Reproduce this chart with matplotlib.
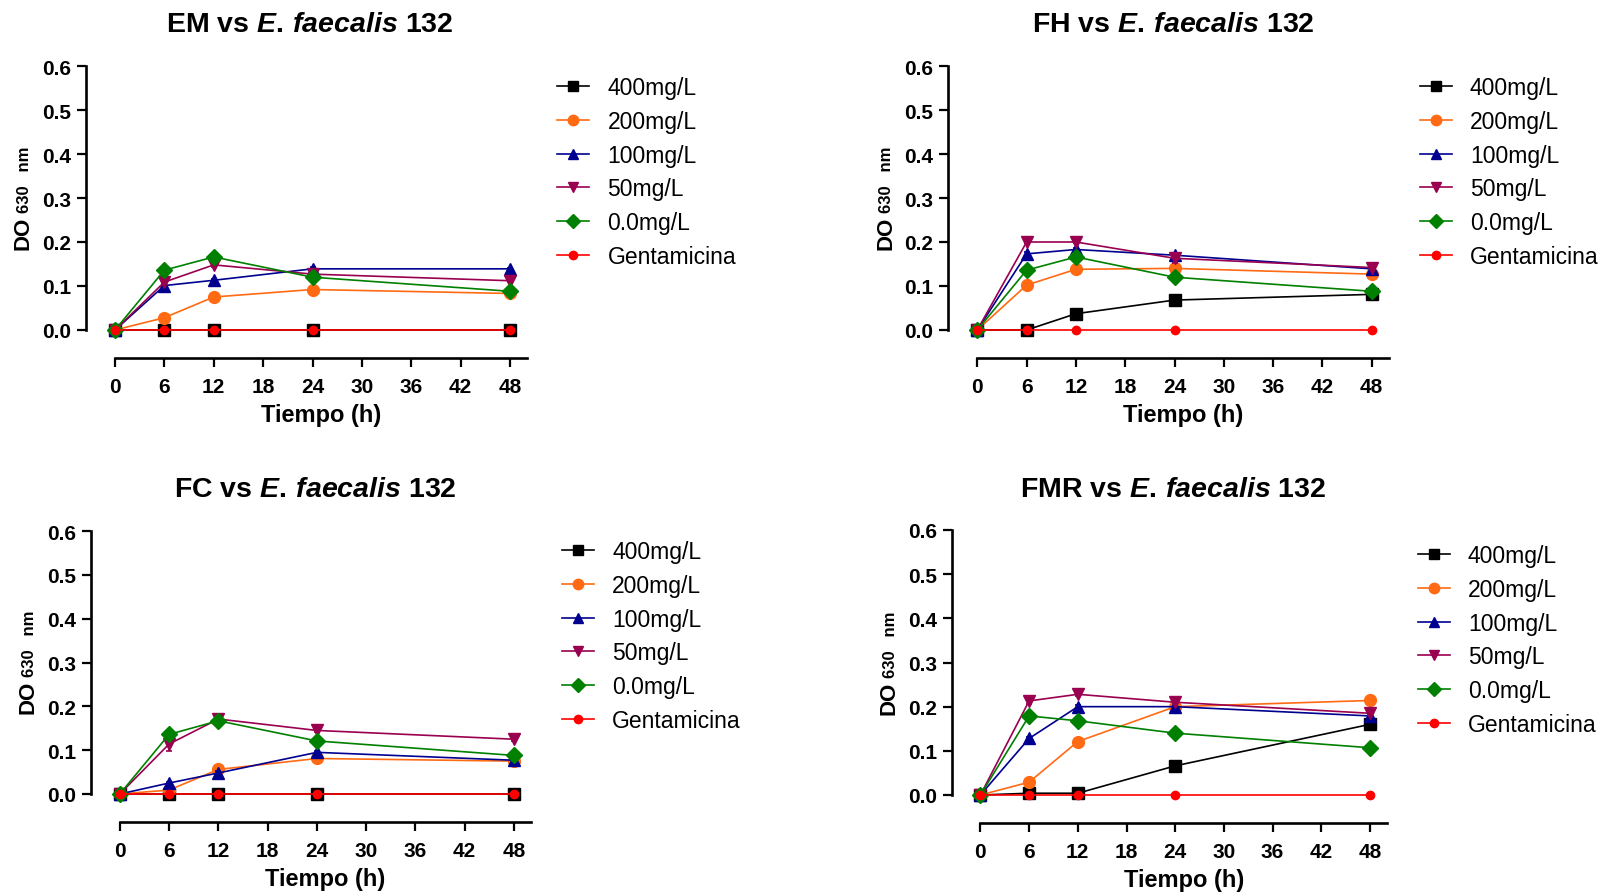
import matplotlib
matplotlib.use('Agg')
import matplotlib.pyplot as plt
from matplotlib.lines import Line2D

plt.rcParams['font.family'] = ['Liberation Sans', 'DejaVu Sans']
plt.rcParams['mathtext.fontset'] = 'custom'
plt.rcParams['mathtext.rm'] = 'Liberation Sans:bold'
plt.rcParams['mathtext.bf'] = 'Liberation Sans:bold'
plt.rcParams['mathtext.it'] = 'Liberation Sans:italic:bold'

# ---------------- data ----------------
hours = [0, 6, 12, 24, 48]
series_labels = ['400mg/L', '200mg/L', '100mg/L', '50mg/L', '0.0mg/L', 'Gentamicina']
x_ticks = [0, 6, 12, 18, 24, 30, 36, 42, 48]
y_ticks = [0.0, 0.1, 0.2, 0.3, 0.4, 0.5, 0.6]
panel_titles = ['EM', 'FH', 'FC', 'FMR']

em_do = [
    [0.0, 0.0, 0.0, 0.0, 0.0],
    [0.0, 0.028, 0.075, 0.092, 0.083],
    [0.0, 0.101, 0.113, 0.139, 0.139],
    [0.0, 0.109, 0.148, 0.127, 0.112],
    [0.0, 0.136, 0.166, 0.120, 0.088],
    [0.0, 0.0, 0.0, 0.0, 0.0],
]
em_err = [
    [0, 0, 0, 0, 0],
    [0, 0.003, 0.003, 0.003, 0.003],
    [0, 0.004, 0.004, 0.004, 0.003],
    [0, 0.006, 0.005, 0.004, 0.004],
    [0, 0.010, 0.006, 0.005, 0.004],
    [0, 0, 0, 0, 0],
]
fh_do = [
    [0.0, 0.0, 0.037, 0.068, 0.081],
    [0.0, 0.102, 0.138, 0.140, 0.127],
    [0.0, 0.173, 0.183, 0.170, 0.139],
    [0.0, 0.200, 0.200, 0.163, 0.142],
    [0.0, 0.136, 0.166, 0.120, 0.088],
    [0.0, 0.0, 0.0, 0.0, 0.0],
]
fh_err = [
    [0, 0, 0.003, 0.004, 0.004],
    [0, 0.004, 0.004, 0.004, 0.004],
    [0, 0.004, 0.004, 0.005, 0.004],
    [0, 0.003, 0.003, 0.010, 0.004],
    [0, 0.008, 0.006, 0.005, 0.004],
    [0, 0, 0, 0, 0],
]
fc_do = [
    [0.0, 0.0, 0.0, 0.0, 0.0],
    [0.0, 0.009, 0.056, 0.081, 0.075],
    [0.0, 0.025, 0.048, 0.095, 0.077],
    [0.0, 0.114, 0.171, 0.145, 0.125],
    [0.0, 0.136, 0.167, 0.121, 0.088],
    [0.0, 0.0, 0.0, 0.0, 0.0],
]
fc_err = [
    [0, 0, 0, 0, 0],
    [0, 0.003, 0.004, 0.004, 0.004],
    [0, 0.003, 0.004, 0.004, 0.004],
    [0, 0.015, 0.005, 0.004, 0.004],
    [0, 0.010, 0.006, 0.005, 0.004],
    [0, 0, 0, 0, 0],
]
fmr_do = [
    [0.0, 0.004, 0.004, 0.066, 0.160],
    [0.0, 0.029, 0.121, 0.200, 0.214],
    [0.0, 0.128, 0.200, 0.200, 0.179],
    [0.0, 0.213, 0.228, 0.210, 0.185],
    [0.0, 0.179, 0.168, 0.140, 0.107],
    [0.0, 0.0, 0.0, 0.0, 0.0],
]
fmr_err = [
    [0, 0.002, 0.002, 0.012, 0.006],
    [0, 0.003, 0.004, 0.004, 0.004],
    [0, 0.004, 0.004, 0.004, 0.004],
    [0, 0.006, 0.004, 0.004, 0.004],
    [0, 0.005, 0.004, 0.004, 0.004],
    [0, 0, 0, 0, 0],
]
panel_values = [em_do, fh_do, fc_do, fmr_do]
panel_errors = [em_err, fh_err, fc_err, fmr_err]

# ---------------- styles ----------------
colors = ['#000000', '#FF6A13', '#000090', '#990050', '#008000', '#FF0000']
markers = ['s', 'o', '^', 'v', 'D', 'o']
msizes = [8.5, 8.5, 8.5, 8.5, 8.0, 6.0]
leg_msizes = [6.5, 7.5, 7.5, 7.5, 7.0, 6.0]

W, H = 1607, 895
fig = plt.figure(figsize=(W / 100, H / 100), dpi=100)

XL = (-3.55, 50.1)
YL = (-0.064, 0.6)

# pixel references per panel: x of 0h, x of 48h, y of 0.0, y of 0.6
panel_px = [
    (115.0, 510.0, 331, 67),
    (977.3, 1371.7, 331, 67),
    (119.8, 514.0, 795, 532),
    (980.4, 1370.0, 796, 531),
]
title_px = [(310, 32), (1173, 32), (315, 497), (1173, 497)]
legend_px = [(557, 77), (1419.5, 77), (561.6, 541), (1417.5, 545)]


def fx(x):
    return x / W


def fy(y):
    return 1 - y / H


for i in range(4):
    x0, x48, y0, y6 = panel_px[i]
    sx = (x48 - x0) / 48.0
    sy = (y0 - y6) / 0.6
    left = x0 + XL[0] * sx
    right = x0 + XL[1] * sx
    top = y6
    bottom = y0 - YL[0] * sy
    ax = fig.add_axes([fx(left), fy(bottom), (right - left) / W, (bottom - top) / H])
    ax.set_xlim(*XL)
    ax.set_ylim(*YL)
    for s in ['top', 'right']:
        ax.spines[s].set_visible(False)
    ax.spines['left'].set_bounds(0, 0.6)
    ax.spines['bottom'].set_bounds(0, XL[1])
    for s in ['left', 'bottom']:
        ax.spines[s].set_linewidth(1.9)
    ax.set_xticks(x_ticks)
    ax.set_yticks(y_ticks)
    ax.set_yticklabels(['%.1f' % v for v in y_ticks])
    ax.tick_params(axis='both', direction='out', length=6.5, width=1.6, labelsize=15)
    ax.tick_params(axis='x', pad=7)
    ax.tick_params(axis='y', pad=4)
    for lab in ax.get_xticklabels() + ax.get_yticklabels():
        lab.set_fontweight('bold')

    vals = panel_values[i]
    errs = panel_errors[i]
    for k in range(6):
        ax.errorbar(hours, vals[k], yerr=errs[k], color=colors[k], marker=markers[k],
                    markersize=msizes[k], linewidth=1.2, elinewidth=1.2, capsize=2.5,
                    capthick=1.2, clip_on=False, zorder=3 + k)

    # x label centred on the drawn x axis line
    fig.text(fx(x0 + XL[1] / 2 * sx), fy(bottom + 63), 'Tiempo (h)',
             ha='center', va='baseline', fontsize=17, fontweight='bold')

    # y label "DO 630 nm"
    base_x = left - 57
    fig.text(fx(base_x), fy(y0 - 81), 'DO', rotation=90, rotation_mode='anchor',
             ha='left', va='baseline', fontsize=16, fontweight='bold')
    fig.text(fx(base_x), fy(y0 - 118), '630   nm', rotation=90, rotation_mode='anchor',
             ha='left', va='baseline', fontsize=12, fontweight='bold')

    # title
    tx, ty = title_px[i]
    fig.text(fx(tx), fy(ty), panel_titles[i] + r' vs $\mathit{E.\,faecalis}$ 132',
             ha='center', va='baseline', fontsize=20.5, fontweight='bold')

    # legend
    handles = [Line2D([], [], color=colors[k], marker=markers[k], markersize=leg_msizes[k],
                      linewidth=1.2) for k in range(6)]
    lx, ly = legend_px[i]
    ax.legend(handles, series_labels, loc='upper left', bbox_to_anchor=(fx(lx), fy(ly)),
              bbox_transform=fig.transFigure, frameon=False, borderpad=0,
              borderaxespad=0, fontsize=16.5, handlelength=1.4, handletextpad=0.8,
              labelspacing=0.47)

fig.savefig('out.png', dpi=100)
